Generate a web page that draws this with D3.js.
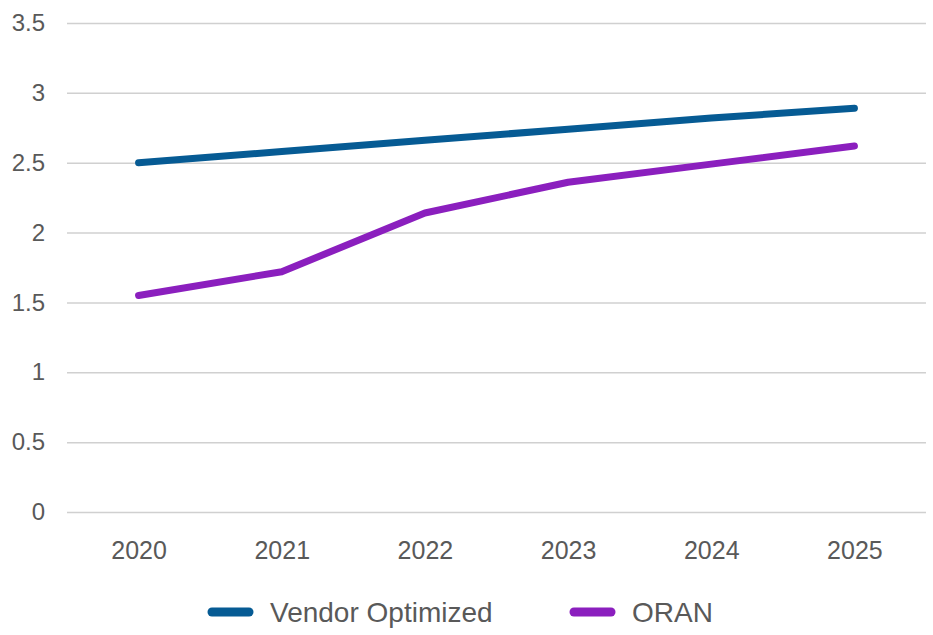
<!DOCTYPE html>
<html>
<head>
<meta charset="utf-8">
<script src="https://cdn.jsdelivr.net/npm/d3@7"></script>
<style>
  body { margin: 0; background: #fff; }
  text { font-family: 'Liberation Sans', Arial, sans-serif; fill: #595959; }
</style>
</head>
<body>
<svg id="chart"></svg>
<script>
//categories and series
let years = ['2020', '2021', '2022', '2023', '2024', '2025']
let vendorValues = [2.5, 2.58, 2.66, 2.74, 2.82, 2.89]
let oranValues = [1.55, 1.72, 2.14, 2.36, 2.49, 2.62]
let yTicks = [0, 0.5, 1, 1.5, 2, 2.5, 3, 3.5]

let series = [
  { name: 'Vendor Optimized', values: vendorValues, color: '#065b94' },
  { name: 'ORAN', values: oranValues, color: '#8b1fbe' }
]

let outerWidth = 933
let outerHeight = 635
let margins = { top: 23, bottom: 123, left: 67, right: 7 }

let svg = d3.select('svg#chart')
  .attr('width', outerWidth)
  .attr('height', outerHeight)

let xScale = d3.scalePoint()
  .domain(years)
  .range([margins.left, outerWidth - margins.right])
  .padding(0.5)

let yScale = d3.scaleLinear()
  .domain([0, 3.5])
  .range([outerHeight - margins.bottom, margins.top])

//horizontal gridlines + y labels
let yAxis = d3.axisLeft(yScale)
  .tickValues(yTicks)
  .tickSize(-(outerWidth - margins.left - margins.right))
  .tickPadding(22)
  .tickFormat(d => d)

let yg = svg.append('g')
  .attr('transform', 'translate(' + margins.left + ',0)')
  .call(yAxis)
yg.select('.domain').remove()
yg.selectAll('.tick line')
  .attr('stroke', '#d0d0d0')
  .attr('stroke-width', 1.5)
yg.selectAll('.tick text')
  .attr('font-size', 24)
  .attr('fill', '#595959')
  .style('font-family', "'Liberation Sans', Arial, sans-serif")

//x labels
let xAxis = d3.axisBottom(xScale).tickSize(0).tickPadding(29)
let xg = svg.append('g')
  .attr('transform', 'translate(0,' + yScale(0) + ')')
  .call(xAxis)
xg.select('.domain').remove()
xg.selectAll('.tick text')
  .attr('font-size', 25)
  .attr('fill', '#595959')
  .style('font-family', "'Liberation Sans', Arial, sans-serif")

//lines
let line = d3.line()
  .x((d, i) => xScale(years[i]))
  .y(d => yScale(d))

svg.selectAll('path.series')
  .data(series)
  .join('path')
  .attr('class', 'series')
  .attr('d', d => line(d.values))
  .attr('fill', 'none')
  .attr('stroke', d => d.color)
  .attr('stroke-width', 7)
  .attr('stroke-linecap', 'round')
  .attr('stroke-linejoin', 'round')

//legend
let legendX = [208, 570]
let legendY = 612

let legend = svg.selectAll('g.legend')
  .data(series)
  .join('g')
  .attr('class', 'legend')
  .attr('transform', (d, i) => 'translate(' + legendX[i] + ',' + legendY + ')')

legend.append('line')
  .attr('x1', 4)
  .attr('x2', 41)
  .attr('stroke', d => d.color)
  .attr('stroke-width', 9)
  .attr('stroke-linecap', 'round')

legend.append('text')
  .attr('x', 62)
  .attr('dy', '0.35em')
  .attr('font-size', 28)
  .text(d => d.name)
</script>
</body>
</html>
